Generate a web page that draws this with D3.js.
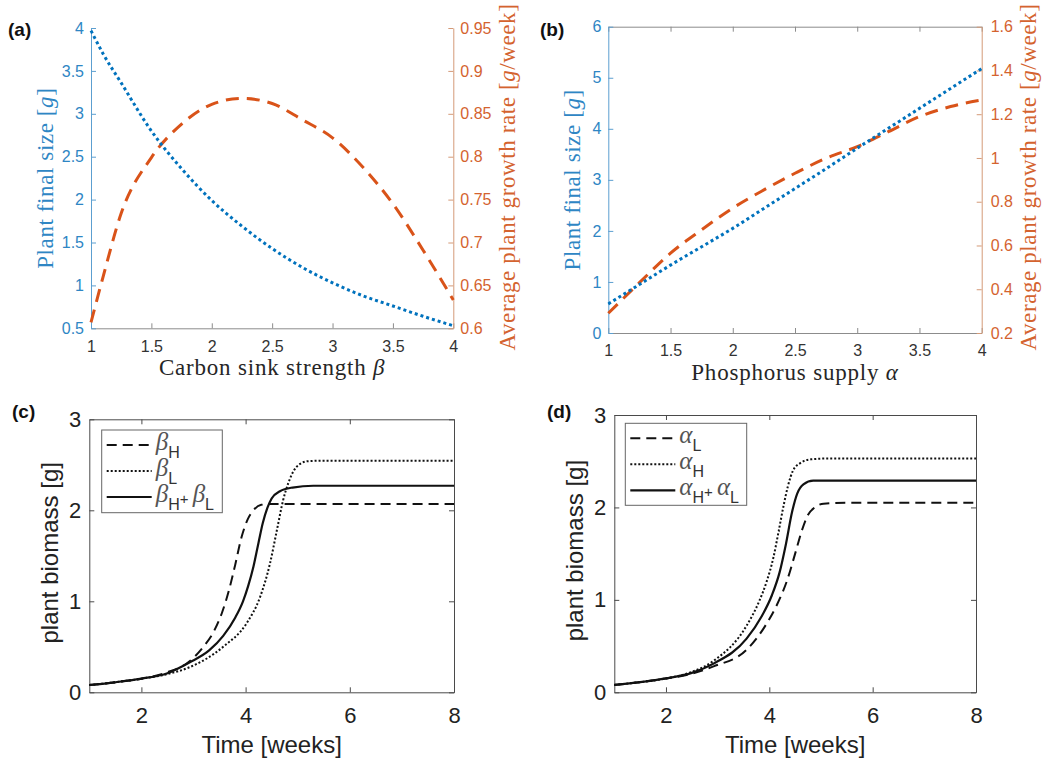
<!DOCTYPE html>
<html>
<head>
<meta charset="utf-8">
<script src="https://cdn.jsdelivr.net/npm/d3@7"></script>
<style>
  body { margin: 0; background: #fff; }
  svg { display: block; }
</style>
</head>
<body>
<div id="chart"></div>
<script>
// ---- values ----
// (a) carbon sink strength
const betaX = [1, 1.1, 1.25, 1.5, 1.75, 2, 2.25, 2.5, 2.75, 3, 3.25, 3.5, 3.75, 4];
const betaSize = [3.97, 3.7, 3.36, 2.8, 2.36, 1.99, 1.69, 1.43, 1.21, 1.03, 0.88, 0.76, 0.64, 0.53];
const betaRate = [0.607, 0.66, 0.734, 0.799, 0.838, 0.861, 0.868, 0.862, 0.843, 0.822, 0.788, 0.745, 0.691, 0.633];

// (b) phosphorus supply
const alphaX = [1, 1.25, 1.5, 1.75, 2, 2.25, 2.5, 2.75, 3, 3.25, 3.5, 3.75, 4];
const alphaSize = [0.57, 0.95, 1.33, 1.69, 2.05, 2.44, 2.83, 3.22, 3.62, 4.01, 4.4, 4.79, 5.18];
const alphaRate = [0.29, 0.43, 0.565, 0.672, 0.771, 0.854, 0.93, 0.999, 1.052, 1.12, 1.189, 1.235, 1.265];

// (c) biomass over time, beta treatments
const timeBH = [1, 1.5, 2, 2.5, 2.9, 3.19, 3.4, 3.55, 3.68, 3.8, 3.92, 4.04, 4.15, 4.3, 4.5, 8];
const massBH = [0.08, 0.11, 0.15, 0.22, 0.33, 0.5, 0.68, 0.88, 1.12, 1.4, 1.7, 1.9, 2.0, 2.06, 2.07, 2.07];
const timeBL = [1, 1.5, 2, 2.5, 2.9, 3.57, 4.02, 4.28, 4.47, 4.6, 4.72, 4.82, 4.92, 5.02, 5.2, 5.5, 8];
const massBL = [0.08, 0.11, 0.15, 0.2, 0.27, 0.5, 0.76, 1.05, 1.42, 1.78, 2.11, 2.3, 2.43, 2.5, 2.54, 2.545, 2.545];
const timeBHL = [1, 1.5, 2, 2.5, 2.93, 3.3, 3.57, 3.8, 3.95, 4.05, 4.15, 4.25, 4.33, 4.42, 4.5, 4.66, 4.9, 5.3, 8];
const massBHL = [0.08, 0.11, 0.15, 0.21, 0.33, 0.46, 0.62, 0.82, 1.0, 1.17, 1.38, 1.65, 1.86, 2.03, 2.13, 2.21, 2.25, 2.27, 2.27];

// (d) biomass over time, alpha treatments
const timeAL = [1, 1.5, 2, 2.5, 2.92, 3.56, 3.9, 4.15, 4.35, 4.5, 4.63, 4.75, 4.88, 5.05, 5.5, 8];
const massAL = [0.08, 0.11, 0.15, 0.2, 0.28, 0.46, 0.7, 0.95, 1.22, 1.5, 1.75, 1.92, 2.0, 2.04, 2.05, 2.05];
const timeAH = [1, 1.5, 2, 2.5, 2.92, 3.56, 3.8, 3.95, 4.08, 4.18, 4.28, 4.36, 4.46, 4.6, 4.8, 5.2, 8];
const massAH = [0.08, 0.11, 0.15, 0.22, 0.34, 0.72, 0.98, 1.2, 1.46, 1.74, 2.03, 2.23, 2.4, 2.48, 2.52, 2.53, 2.53];
const timeAHL = [1, 1.5, 2, 2.5, 2.92, 3.56, 3.85, 4.05, 4.2, 4.32, 4.44, 4.54, 4.66, 4.85, 5.2, 8];
const massAHL = [0.08, 0.11, 0.15, 0.21, 0.31, 0.58, 0.82, 1.05, 1.3, 1.6, 1.95, 2.15, 2.25, 2.29, 2.29, 2.29];

// tick values
const ticksX14 = [1, 1.5, 2, 2.5, 3, 3.5, 4];
const ticksSizeA = [0.5, 1, 1.5, 2, 2.5, 3, 3.5, 4];
const ticksRateA = [0.6, 0.65, 0.7, 0.75, 0.8, 0.85, 0.9, 0.95];
const ticksSizeB = [0, 1, 2, 3, 4, 5, 6];
const ticksRateB = [0.2, 0.4, 0.6, 0.8, 1, 1.2, 1.4, 1.6];
const ticksTime = [2, 4, 6, 8];
const ticksMass = [0, 1, 2, 3];

const width = 1042;
const height = 763;

const BLUE = '#0072BD', ORANGE = '#D95319';
const BLUE_TXT = '#2e86c4', ORANGE_TXT = '#d4632f';
const SANS = 'Liberation Sans, Arial, sans-serif';
const SERIF = 'Liberation Serif, Times New Roman, serif';

const svg = d3.select('#chart')
  .append('svg')
  .attr('width', width)
  .attr('height', height);

function styleAxis(g, color, txtColor, size) {
  g.attr('color', color)
    .attr('font-family', SANS)
    .attr('font-size', size);
  g.selectAll('text').attr('fill', txtColor);
  g.select('.domain').attr('stroke-width', 1);
}

// rotated serif label with an italic g in brackets
function yLabel(x, y, pre, post, color) {
  const t = svg.append('text')
    .attr('transform', `translate(${x},${y}) rotate(-90)`)
    .attr('text-anchor', 'middle')
    .attr('dy', '0.35em')
    .attr('font-family', SERIF)
    .attr('font-size', 23)
    .attr('letter-spacing', 0.6)
    .attr('fill', color);
  t.append('tspan').text(pre + ' [');
  t.append('tspan').attr('font-style', 'italic').text('g');
  t.append('tspan').text(post + ']');
}

function dualPanel(p) {
  const x = d3.scaleLinear().domain([1, 4]).range([p.left, p.right]);
  const yL = d3.scaleLinear().domain(p.leftDomain).range([p.bottom, p.top]);
  const yR = d3.scaleLinear().domain(p.rightDomain).range([p.bottom, p.top]);
  const fmt = d3.format('');

  if (p.topBorder) {
    svg.append('g')
      .attr('transform', `translate(0,${p.top})`)
      .call(d3.axisTop(x).tickValues(p.xTicks).tickSizeInner(-5).tickSizeOuter(0).tickFormat(''))
      .call(g => styleAxis(g, '#8c8c8c', '#333', 16));
  }

  svg.append('g')
    .attr('transform', `translate(0,${p.bottom})`)
    .call(d3.axisBottom(x).tickValues(p.xTicks).tickSizeInner(-5).tickSizeOuter(0).tickPadding(12).tickFormat(fmt))
    .call(g => styleAxis(g, '#8c8c8c', '#333', 16));

  svg.append('g')
    .attr('transform', `translate(${p.left},0)`)
    .call(d3.axisLeft(yL).tickValues(p.leftTicks).tickSizeInner(-5).tickSizeOuter(0).tickPadding(7).tickFormat(fmt))
    .call(g => styleAxis(g, '#5c9fd0', BLUE_TXT, 16));

  svg.append('g')
    .attr('transform', `translate(${p.right},0)`)
    .call(d3.axisRight(yR).tickValues(p.rightTicks).tickSizeInner(-5).tickSizeOuter(0).tickPadding(p.rightPad).tickFormat(fmt))
    .call(g => styleAxis(g, '#d49a78', ORANGE_TXT, 16));

  // orange dashed growth rate
  svg.append('path')
    .datum(p.xs.map((d, i) => [d, p.rate[i]]))
    .attr('fill', 'none')
    .attr('stroke', ORANGE)
    .attr('stroke-width', 3)
    .attr('stroke-dasharray', '13,8')
    .attr('d', d3.line().x(d => x(d[0])).y(d => yR(d[1])).curve(d3.curveMonotoneX));

  // blue dotted final size
  svg.append('path')
    .datum(p.xs.map((d, i) => [d, p.size[i]]))
    .attr('fill', 'none')
    .attr('stroke', BLUE)
    .attr('stroke-width', 3)
    .attr('stroke-dasharray', '3,3')
    .attr('d', d3.line().x(d => x(d[0])).y(d => yL(d[1])).curve(d3.curveMonotoneX));

  // x label
  const xl = svg.append('text')
    .attr('x', (p.left + p.right) / 2)
    .attr('y', p.bottom + 47)
    .attr('text-anchor', 'middle')
    .attr('font-family', SERIF)
    .attr('font-size', 23)
    .attr('letter-spacing', 0.8)
    .attr('fill', '#262626');
  xl.append('tspan').text(p.xLabel + ' ');
  xl.append('tspan').attr('font-style', 'italic').text(p.xSym);

  yLabel(p.leftLabelX, (p.top + p.bottom) / 2, 'Plant final size', '', BLUE_TXT);
  yLabel(p.rightLabelX, 177, 'Average plant growth rate', '/week', ORANGE_TXT);

  svg.append('text')
    .attr('x', p.tagX).attr('y', 36)
    .attr('font-family', SANS).attr('font-weight', 'bold').attr('font-size', 19)
    .attr('fill', '#111')
    .text(p.tag);
}

dualPanel({
  left: 91, right: 453.3, top: 28, bottom: 328.3,
  leftDomain: [0.5, 4], rightDomain: [0.6, 0.95],
  xTicks: ticksX14, leftTicks: ticksSizeA, rightTicks: ticksRateA, rightPad: 7,
  xs: betaX, size: betaSize, rate: betaRate,
  xLabel: 'Carbon sink strength', xSym: 'β',
  leftLabelX: 45, rightLabelX: 507, tag: '(a)', tagX: 8, topBorder: false
});

dualPanel({
  left: 608.3, right: 981.7, top: 26.7, bottom: 333,
  leftDomain: [0, 6], rightDomain: [0.2, 1.6],
  xTicks: ticksX14, leftTicks: ticksSizeB, rightTicks: ticksRateB, rightPad: 9,
  xs: alphaX, size: alphaSize, rate: alphaRate,
  xLabel: 'Phosphorus supply', xSym: 'α',
  leftLabelX: 571.5, rightLabelX: 1028, tag: '(b)', tagX: 540, topBorder: true
});

function timePanel(p) {
  const x = d3.scaleLinear().domain([1, 8]).range([p.left, p.right]);
  const y = d3.scaleLinear().domain([0, 3]).range([p.bottom, p.top]);
  const AX = '#4a4a4a';
  const fmt = d3.format('d');

  svg.append('g').attr('transform', `translate(0,${p.top})`)
    .call(d3.axisTop(x).tickValues(ticksTime).tickSizeInner(-5).tickSizeOuter(0).tickFormat(''))
    .call(g => styleAxis(g, AX, '#222', 22));
  svg.append('g').attr('transform', `translate(${p.right},0)`)
    .call(d3.axisRight(y).tickValues(ticksMass).tickSizeInner(-5).tickSizeOuter(0).tickFormat(''))
    .call(g => styleAxis(g, AX, '#222', 22));
  svg.append('g').attr('transform', `translate(0,${p.bottom})`)
    .call(d3.axisBottom(x).tickValues(ticksTime).tickSizeInner(-5).tickSizeOuter(0).tickPadding(15).tickFormat(fmt))
    .call(g => styleAxis(g, AX, '#222', 22));
  svg.append('g').attr('transform', `translate(${p.left},0)`)
    .call(d3.axisLeft(y).tickValues(ticksMass).tickSizeInner(-5).tickSizeOuter(0).tickPadding(8).tickFormat(fmt))
    .call(g => styleAxis(g, AX, '#222', 22));

  const line = d3.line().x(d => x(d[0])).y(d => y(d[1])).curve(d3.curveMonotoneX);
  p.series.forEach(s => {
    svg.append('path')
      .datum(s.t.map((d, i) => [d, s.m[i]]))
      .attr('fill', 'none')
      .attr('stroke', '#111')
      .attr('stroke-width', s.w)
      .attr('stroke-dasharray', s.dash)
      .attr('d', line);
  });

  svg.append('text')
    .attr('x', (p.left + p.right) / 2).attr('y', 753)
    .attr('text-anchor', 'middle')
    .attr('font-family', SANS).attr('font-size', 24).attr('fill', '#222')
    .text('Time [weeks]');
  svg.append('text')
    .attr('transform', `translate(${p.left - 40},${(p.top + p.bottom) / 2 - 3}) rotate(-90)`)
    .attr('text-anchor', 'middle').attr('dy', '0.35em')
    .attr('font-family', SANS).attr('font-size', 24).attr('fill', '#222')
    .text('plant biomass [g]');

  // legend
  const lg = p.legend;
  svg.append('rect')
    .attr('x', lg.x).attr('y', lg.y).attr('width', lg.w).attr('height', lg.h)
    .attr('fill', '#fff').attr('stroke', '#666').attr('stroke-width', 1);
  p.series.forEach((s, i) => {
    const ly = lg.y + 15 + i * 26;
    svg.append('line')
      .attr('x1', lg.x + 5).attr('x2', lg.x + 50)
      .attr('y1', ly).attr('y2', ly)
      .attr('stroke', '#111').attr('stroke-width', s.w)
      .attr('stroke-dasharray', s.dash);
    const t = svg.append('text')
      .attr('x', lg.x + 54).attr('y', ly + 5)
      .attr('fill', '#333');
    s.label.forEach((part, j) => {
      if (j > 0) {
        t.append('tspan').attr('dy', -6).attr('font-family', SANS).attr('font-size', 15).text('+ ');
      }
      t.append('tspan').attr('dy', j > 0 ? -2 : 0)
        .attr('font-family', SERIF).attr('font-style', 'italic').attr('font-size', 25)
        .attr('fill', '#555').text(part[0]);
      t.append('tspan').attr('dy', 8)
        .attr('font-family', SANS).attr('font-size', 16).text(part[1]);
    });
  });

  svg.append('text')
    .attr('x', p.tagX).attr('y', 418)
    .attr('font-family', SANS).attr('font-weight', 'bold').attr('font-size', 19)
    .attr('fill', '#111')
    .text(p.tag);
}

const DASH = '10,6', DOT = '2,2', SOLID = null;

timePanel({
  left: 89.3, right: 454, top: 419.3, bottom: 692.3, tag: '(c)', tagX: 12,
  legend: { x: 101.7, y: 430, w: 120.6, h: 82.7 },
  series: [
    { t: timeBH, m: massBH, dash: DASH, w: 2, label: [['β', 'H']] },
    { t: timeBL, m: massBL, dash: DOT, w: 2, label: [['β', 'L']] },
    { t: timeBHL, m: massBHL, dash: SOLID, w: 2.2, label: [['β', 'H'], ['β', 'L']] }
  ]
});

timePanel({
  left: 614.3, right: 976, top: 415, bottom: 692.3, tag: '(d)', tagX: 547,
  legend: { x: 625.3, y: 423.3, w: 121.4, h: 82 },
  series: [
    { t: timeAL, m: massAL, dash: DASH, w: 2, label: [['α', 'L']] },
    { t: timeAH, m: massAH, dash: DOT, w: 2, label: [['α', 'H']] },
    { t: timeAHL, m: massAHL, dash: SOLID, w: 2.2, label: [['α', 'H'], ['α', 'L']] }
  ]
});
</script>
</body>
</html>
